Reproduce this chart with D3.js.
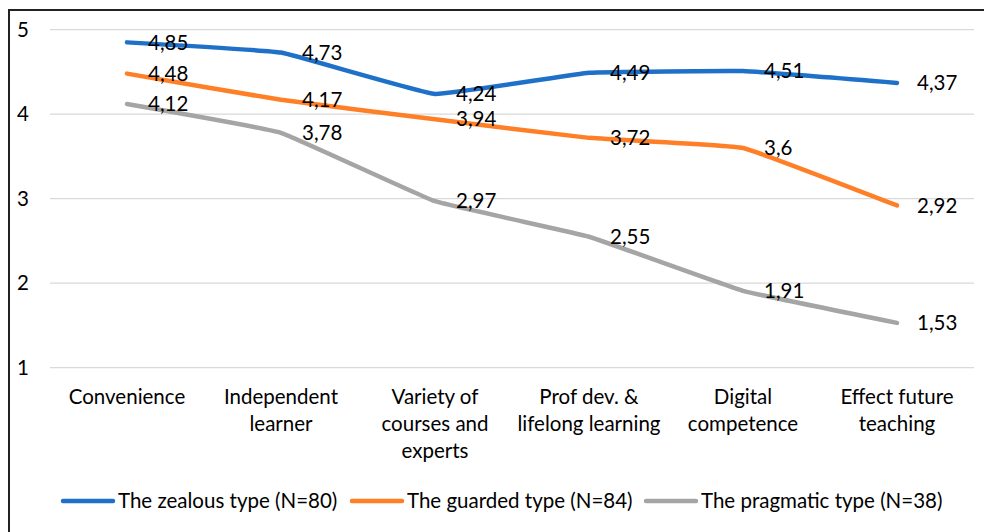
<!DOCTYPE html>
<html><head><meta charset="utf-8">
<script src="https://cdn.jsdelivr.net/npm/d3@7"></script>
<style>body{margin:0;background:#fff}svg{display:block}text{font-family:Lato,"Open Sans",sans-serif;fill:#000}</style>
</head><body><svg id="c" width="984" height="532"></svg>
<script>
const categories = [["Convenience"],["Independent","learner"],["Variety of","courses and","experts"],["Prof dev. &","lifelong learning"],["Digital","competence"],["Effect future","teaching"]];
const seriesNames = ["The zealous type (N=80)","The guarded type (N=84)","The pragmatic type (N=38)"];
const zealous = [4.85,4.73,4.24,4.49,4.51,4.37];
const guarded = [4.48,4.17,3.94,3.72,3.6,2.92];
const pragmatic = [4.12,3.78,2.97,2.55,1.91,1.53];
const yTicks = [1,2,3,4,5];
const colors = ["#1F70C8","#FF7F27","#A5A5A5"];
const series = [zealous, guarded, pragmatic];
const FS = "20.5px";

const svg = d3.select("#c");
svg.append("rect").attr("x",9).attr("y",10).attr("width",990).attr("height",540)
  .attr("fill","none").attr("stroke","#222").attr("stroke-width",2);

const x = d3.scaleBand().domain(d3.range(categories.length)).range([50,974]);
const y = d3.scaleLinear().domain([1,5]).range([367.7,29.7]);

const grid = svg.append("g");
grid.selectAll("line").data(yTicks).join("line")
  .attr("x1",50).attr("x2",974).attr("y1",d=>y(d)).attr("y2",d=>y(d))
  .attr("stroke","#d9d9d9").attr("stroke-width",1.3);
svg.append("g").selectAll("text").data(yTicks).join("text")
  .attr("x",29).attr("y",d=>y(d)).attr("dy","0.35em").attr("text-anchor","end")
  .style("font-size",FS).text(d=>d);

const xl = svg.append("g");
categories.forEach((lines,i)=>{
  const cx = x(i)+x.bandwidth()/2;
  const t = xl.append("text").attr("x",cx).attr("y",397).attr("text-anchor","middle").style("font-size",FS);
  lines.forEach((l,j)=>t.append("tspan").attr("x",cx).attr("y",397+27*j).attr("dy","0.35em").text(l));
});

const line = d3.line().x((d,i)=>x(i)+x.bandwidth()/2).y(d=>y(d)).curve(d3.curveCardinal.tension(0.75));
series.forEach((s,k)=>{
  svg.append("path").datum(s).attr("d",line).attr("fill","none")
    .attr("stroke",colors[k]).attr("stroke-width",4.5).attr("stroke-linecap","round").attr("stroke-linejoin","round");
});
series.forEach((s,k)=>{
  svg.append("g").selectAll("text").data(s).join("text")
    .attr("x",(d,i)=>x(i)+x.bandwidth()/2+(i===5?20:21)).attr("y",d=>y(d)).attr("dy","0.35em")
    .style("font-size",FS).text(d=>String(d).replace(".",","));
});

const legX = [63,352,646];
const lg = svg.append("g");
seriesNames.forEach((n,k)=>{
  lg.append("line").attr("x1",legX[k]).attr("x2",legX[k]+50).attr("y1",501).attr("y2",501)
    .attr("stroke",colors[k]).attr("stroke-width",4.5).attr("stroke-linecap","round");
  lg.append("text").attr("x",legX[k]+55).attr("y",501).attr("dy","0.35em").style("font-size",FS).text(n);
});
</script></body></html>
